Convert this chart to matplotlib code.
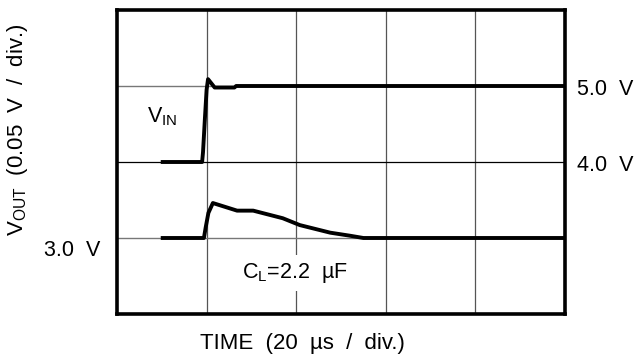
import matplotlib
matplotlib.use("Agg")
import matplotlib.pyplot as plt

plt.rcParams['font.family'] = ['Liberation Sans', 'DejaVu Sans']
plt.rcParams['mathtext.fontset'] = 'custom'
plt.rcParams['mathtext.rm'] = 'Liberation Sans'
plt.rcParams['mathtext.it'] = 'Liberation Sans'

# time in divisions (20 us/div), level in divisions
vin_t = [0.51, 0.95, 0.96, 0.98, 1.00, 1.016, 1.09, 1.31, 1.33, 5.0]
vin_y = [2.0, 2.0, 2.13, 2.55, 2.95, 3.09, 2.98, 2.98, 3.0, 3.0]

vout_t = [0.51, 0.97, 0.99, 1.02, 1.07, 1.34, 1.52, 1.85, 2.04, 2.38, 2.60, 2.75, 5.0]
vout_y = [1.0, 1.0, 1.14, 1.33, 1.46, 1.36, 1.36, 1.26, 1.17, 1.07, 1.03, 1.0, 1.0]

level_labels = ['5.0  V', '4.0  V', '3.0  V']
level_pos = [3, 2, 1]

fig = plt.figure(figsize=(6.42, 3.6), dpi=100)
ax = fig.add_axes([117/642, 46/360, 448/642, 304/360])
ax.set_xlim(0, 5)
ax.set_ylim(0, 4)

for xv in [1, 2, 3, 4]:
    ax.axvline(xv, color='#555555', lw=0.9, zorder=1)
ax.axhline(3, color='#777777', lw=1.0, zorder=1)
ax.axhline(2, color='black', lw=0.9, zorder=1)
ax.axhline(1, color='#777777', lw=1.0, zorder=1)

ax.plot(vin_t, vin_y, color='black', lw=2.8, solid_joinstyle='round', zorder=3)
ax.plot(vout_t, vout_y, color='black', lw=2.8, solid_joinstyle='round', zorder=3)

for s in ax.spines.values():
    s.set_linewidth(2.6)
ax.set_xticks([])
ax.set_yticks([])

fs = 15.5
ax.text(5.13, 2.95, level_labels[0], fontsize=fs, ha='left', va='center', clip_on=False)
ax.text(5.13, 1.96, level_labels[1], fontsize=fs, ha='left', va='center', clip_on=False)
ax.text(-0.19, 0.83, level_labels[2], fontsize=fs, ha='right', va='center', clip_on=False)

ax.text(0.335, 2.59, r'$\mathregular{V_{IN}}$', fontsize=fs, ha='left', va='center', zorder=4)
ax.text(1.98, 0.54, r'$\mathregular{C_L}$=2.2  µF', fontsize=fs, ha='center', va='center',
        zorder=4, bbox=dict(facecolor='white', edgecolor='none', pad=4))

fig.text(18/642, 1 - 130/360, r'$\mathregular{V_{OUT}}$  (0.05  V  /  div.)', fontsize=16,
         rotation=90, ha='center', va='center')
fig.text(302/642, 1 - 344/360, 'TIME  (20  µs  /  div.)', fontsize=16, ha='center', va='center')

fig.savefig('out.png', dpi=100)
